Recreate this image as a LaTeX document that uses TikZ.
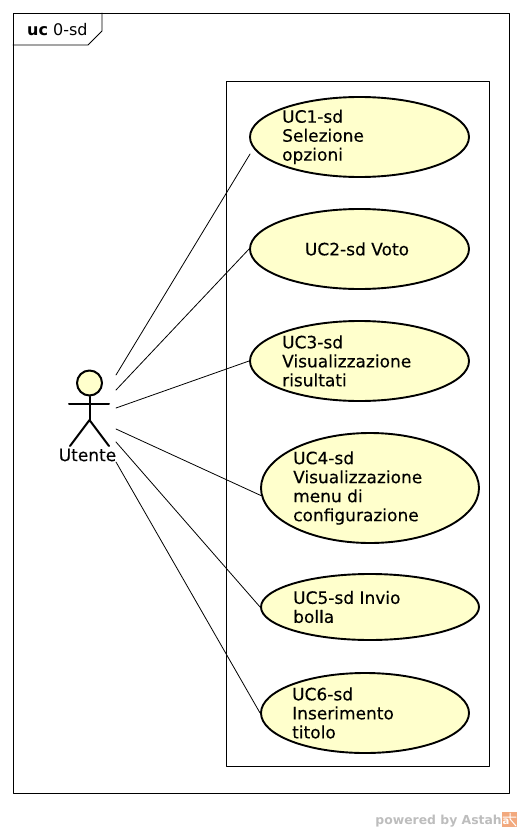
\documentclass[tikz,border=0pt]{standalone}
\usepackage{fontspec}
\setmainfont{DejaVu Sans}
\newfontfamily\ucfont[FakeBold=0.25]{DejaVu Sans}
\usetikzlibrary{shapes.geometric}
\definecolor{ucfill}{HTML}{FFFFCC}
\definecolor{astahgray}{HTML}{BDBDBD}
\definecolor{astahorange}{HTML}{F2A97E}
\begin{document}
\begin{tikzpicture}[x=1pt, y=-1pt, line cap=round, line join=round, font=\ucfont\fontsize{17}{19}\selectfont,
	usecase/.style={ellipse, draw=black, line width=1.9pt, fill=ucfill, inner sep=0pt},
	uclabel/.style={align=left, inner sep=0pt},
	assoc/.style={draw=black, line width=0.8pt},
	limb/.style={draw=black, line width=2pt}]
		\useasboundingbox (0,0) rectangle (522,832);
		
		%========================
		% Frame and tab
		%========================
		\draw[line width=0.8pt] (13,13) rectangle (509,793);
		\draw[line width=0.8pt] (13,45) -- (88,45) -- (102,31) -- (102,13);
		\node[anchor=base west, inner sep=0pt, font=\fontsize{16}{18}\selectfont] (frametitle) at (27,36) {\textbf{uc} 0-sd};
		
		% system boundary
		\draw[line width=0.8pt] (226,81) rectangle (489,766);
		
		%========================
		% Use cases
		%========================
		\node[usecase, minimum width=219pt, minimum height=80pt] (uc1) at (359.5,137) {};
		\node[usecase, minimum width=219pt, minimum height=80pt] (uc2) at (359.5,249) {};
		\node[usecase, minimum width=219pt, minimum height=80pt] (uc3) at (359.5,361) {};
		\node[usecase, minimum width=218pt, minimum height=110pt] (uc4) at (370,488) {};
		\node[usecase, minimum width=218pt, minimum height=66pt] (uc5) at (370,607) {};
		\node[usecase, minimum width=208pt, minimum height=80pt] (uc6) at (365,713) {};
		
		% left edge of each text follows the reference
		\node[uclabel, anchor=west] (uc1text) at (282,137) {UC1-sd\\Selezione\\opzioni};
		\node[uclabel] (uc2text) at (357,249) {UC2-sd Voto};
		\node[uclabel, anchor=west] (uc3text) at (282,361) {UC3-sd\\Visualizzazione\\risultati};
		\node[uclabel, anchor=west] (uc4text) at (293,488) {UC4-sd\\Visualizzazione\\menu di\\configurazione};
		\node[uclabel, anchor=west] (uc5text) at (293,607) {UC5-sd Invio\\bolla};
		\node[uclabel, anchor=west] (uc6text) at (292,713) {UC6-sd\\Inserimento\\titolo};
		
		%========================
		% Actor
		%========================
		\node[circle, draw=black, line width=2pt, fill=ucfill, minimum size=25pt, inner sep=0pt] (head) at (89.5,383) {};
		\coordinate (hip) at (89.5,420);
		\coordinate (handl) at (69,404);
		\coordinate (handr) at (109,404);
		\coordinate (footl) at (70,446);
		\coordinate (footr) at (109,446);
		\draw[limb] (head) -- (hip);
		\draw[limb] (handl) -- (handr);
		\draw[limb] (footl) -- (hip) -- (footr);
		\node[inner sep=0pt] (actorname) at (87.5,455) {Utente};
		
		%========================
		% Associations
		%========================
		\coordinate (a1) at (116,375);
		\coordinate (a2) at (116,390);
		\coordinate (a3) at (116,408);
		\coordinate (a4) at (116,429);
		\coordinate (a5) at (116,442);
		\coordinate (a6) at (116,462);
		\draw[assoc] (a1) -- ([shift={(1,17)}]uc1.west); % stops short of the ellipse
		\draw[assoc] (a2) -- (uc2.west);
		\draw[assoc] (a3) -- (uc3.west);
		\draw[assoc] (a4) -- (uc4.184);
		\draw[assoc] (a5) -- (uc5.west);
		\draw[assoc] (a6) -- (uc6.west);
		
		%========================
		% Watermark
		%========================
		\node[anchor=base east, inner sep=0pt, text=astahgray, font=\fontsize{12.4}{16}\selectfont\bfseries] (mark) at (502,824) {powered by Astah};
		\fill[astahorange] (502,812) rectangle (517,827);
		\draw[white, line width=1pt] (510,813) -- (510,819) (503,817) -- (516,817) (510,819) -- (516,826);
		\node[inner sep=0pt, text=white, font=\fontsize{10}{10}\selectfont\bfseries] (markicon) at (506,822) {a};
		
	\end{tikzpicture}
\end{document}
